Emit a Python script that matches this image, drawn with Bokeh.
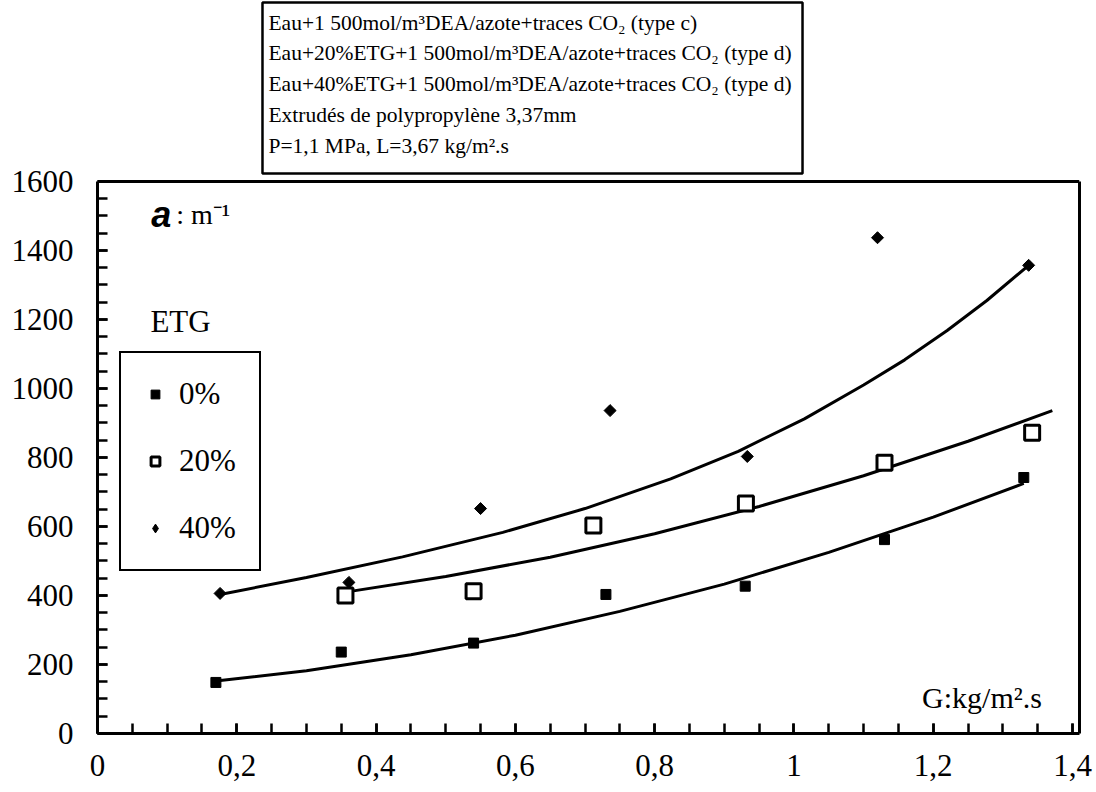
import numpy as np
from bokeh.plotting import figure
from bokeh.models import (Range1d, FixedTicker, CustomJSTickFormatter, Label,
                          Legend, LegendItem, BoxAnnotation, Span, LinearAxis)
from bokeh.embed import file_html
from bokeh.resources import INLINE

# ---------------- data ----------------
g_0 = [0.17, 0.35, 0.54, 0.73, 0.93, 1.13, 1.33]
a_0 = [148, 236, 262, 403, 427, 562, 742]
g_20 = [0.356, 0.54, 0.712, 0.931, 1.13, 1.342]
a_20 = [400, 412, 603, 667, 785, 872]
g_40 = [0.176, 0.361, 0.55, 0.736, 0.933, 1.12, 1.337]
a_40 = [406, 438, 652, 936, 803, 1437, 1357]

# trend curves, points
curve_g_0 = [0.17, 0.3, 0.45, 0.6, 0.75, 0.9, 1.05, 1.2, 1.33]
curve_a_0 = [152, 182, 228, 285, 354, 433, 525, 627, 725]
curve_g_20 = [0.363, 0.5, 0.65, 0.8, 0.95, 1.1, 1.25, 1.371]
curve_a_20 = [412, 455, 511, 579, 658, 747, 847, 936]
curve_g_40 = [0.176, 0.3, 0.438, 0.582, 0.7, 0.823, 0.92, 1.015, 1.1, 1.159, 1.22, 1.277, 1.337]
curve_a_40 = [403, 452, 512, 583, 652, 738, 818, 912, 1010, 1083, 1168, 1255, 1357]

x_major = [0, 0.2, 0.4, 0.6, 0.8, 1, 1.2, 1.4]
x_minor = [round(i * 0.05, 2) for i in range(29)]
y_major = [0, 200, 400, 600, 800, 1000, 1200, 1400, 1600]
y_minor = list(range(0, 1601, 50))
X_MAX = 1.41
Y_MAX = 1600

legend_labels = ["0%", "20%", "40%"]
box_lines = [
    "Eau+1 500mol/m\u00b3DEA/azote+traces CO\u2082 (type c)",
    "Eau+20%ETG+1 500mol/m\u00b3DEA/azote+traces CO\u2082 (type d)",
    "Eau+40%ETG+1 500mol/m\u00b3DEA/azote+traces CO\u2082 (type d)",
    "Extrud\u00e9s de polypropyl\u00e8ne 3,37mm",
    "P=1,1 MPa, L=3,67 kg/m\u00b2.s",
]
box_line_y = [2058, 1971, 1884, 1794, 1704]

SERIF = "Liberation Serif"

# the frame reaches the top of the page so the caption box above the axes can be drawn;
# the axes themselves are bounded to 0..1600
p = figure(width=1096, height=792, x_range=Range1d(0, X_MAX), y_range=Range1d(0, 2124.6),
           output_backend="svg", toolbar_location=None,
           min_border_left=97, min_border_right=17, min_border_top=0,
           min_border_bottom=59)
p.grid.visible = False
p.background_fill_color = "white"
p.border_fill_color = "white"
p.outline_line_color = None

for ax in (p.xaxis[0], p.yaxis[0]):
    ax.axis_line_width = 3
    ax.major_tick_in = 10
    ax.major_tick_out = 0
    ax.minor_tick_in = 10
    ax.minor_tick_out = 0
    ax.major_tick_line_width = 2.5
    ax.minor_tick_line_width = 2.5
    ax.major_label_text_font = SERIF
    ax.major_label_text_font_size = "31px"
    ax.major_label_text_color = "black"

p.xaxis.ticker = FixedTicker(ticks=x_major, minor_ticks=x_minor)
p.yaxis.ticker = FixedTicker(ticks=y_major, minor_ticks=y_minor)
p.yaxis.bounds = (0, Y_MAX)
p.xaxis.formatter = CustomJSTickFormatter(
    code="return (Math.round(tick*10)/10).toString().replace('.', ',');")
p.xaxis.major_label_standoff = 21
p.yaxis.major_label_standoff = 24

# right side of the frame and its top edge
right_ax = LinearAxis(ticker=FixedTicker(ticks=[]), bounds=(0, Y_MAX),
                      axis_line_width=3, major_tick_line_color=None,
                      minor_tick_line_color=None, major_label_text_font_size="0px")
p.add_layout(right_ax, "right")
p.add_layout(Span(location=Y_MAX, dimension="width", line_color="black", line_width=3))

# curves
lw = 3
p.line(curve_g_0, curve_a_0, line_color="black", line_width=lw)
p.line(curve_g_20, curve_a_20, line_color="black", line_width=lw)
p.line(curve_g_40, curve_a_40, line_color="black", line_width=lw)

# points
r0 = p.scatter(g_0, a_0, marker="square", size=10, color="black")
r20 = p.scatter(g_20, a_20, marker="square", size=15, fill_color="white",
                line_color="black", line_width=3)
r40 = p.scatter(g_40, a_40, marker="square", angle=np.pi / 4, size=8.5, color="black")
# legend-only glyph for the diamond (the legend ignores marker angle); no visible point
r40_leg = p.scatter(x=[np.nan], y=[np.nan], marker="diamond", size=15, color="black")

legend = Legend(items=[LegendItem(label=legend_labels[0], renderers=[r0]),
                       LegendItem(label=legend_labels[1], renderers=[r20]),
                       LegendItem(label=legend_labels[2], renderers=[r40_leg])],
                location=(22, 162), orientation="vertical",
                border_line_color="black", border_line_width=2.5, border_line_alpha=1,
                background_fill_color="white", background_fill_alpha=1,
                label_text_font=SERIF, label_text_font_size="31px",
                label_text_color="black",
                glyph_width=22, glyph_height=36, label_height=36,
                spacing=31, padding=23, margin=0, label_standoff=13)
p.add_layout(legend)

# texts
p.add_layout(Label(x=0.076, y=1194, text="ETG", text_font=SERIF, text_font_size="31px",
                   text_color="black", text_baseline="middle", text_align="left"))
p.add_layout(Label(x=1.184, y=104, text="G:kg/m\u00b2.s", text_font=SERIF,
                   text_color="black", text_font_size="30px",
                   text_baseline="middle", text_align="left"))
p.add_layout(Label(x=0.077, y=1505, text="a", text_font="Liberation Sans",
                   text_font_style="bold italic", text_font_size="36px",
                   text_color="black", text_baseline="middle", text_align="left"))
p.add_layout(Label(x=0.113, y=1505, text=": m\u207b\u00b9", text_font=SERIF,
                   text_color="black", text_font_size="28px",
                   text_baseline="middle", text_align="left"))

# caption box above the axes
p.add_layout(BoxAnnotation(left=0.2369, right=1.0123, top=2118.8, bottom=1623.2,
                           fill_color="white", fill_alpha=1,
                           line_color="black", line_width=2.5, line_alpha=1))
for txt, yy in zip(box_lines, box_line_y):
    p.add_layout(Label(x=0.2455, y=yy, text=txt, text_font=SERIF, text_font_size="21.5px",
                       text_color="black", text_baseline="middle", text_align="left"))

open("out.html", "w").write(file_html(p, INLINE))
